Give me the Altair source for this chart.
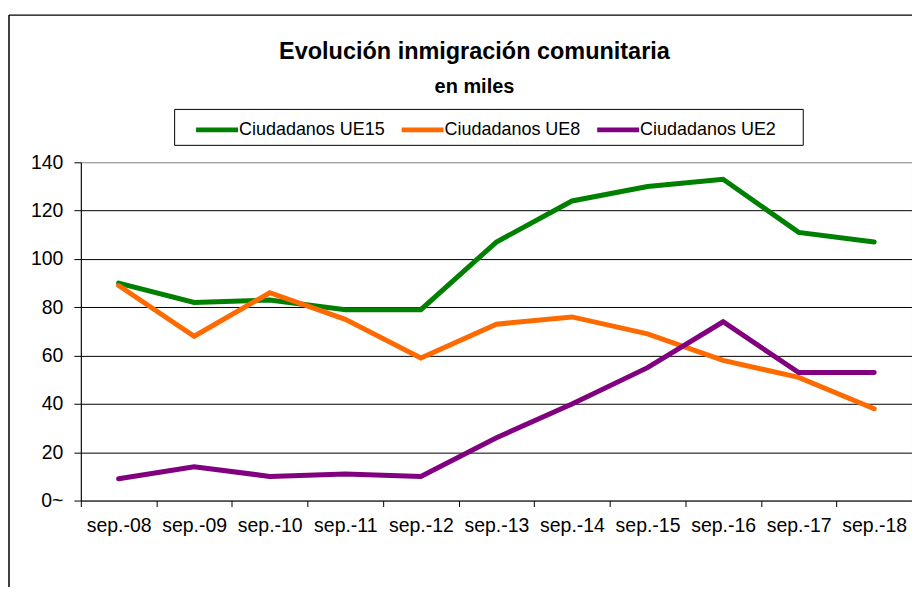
import altair as alt
import pandas as pd

periodos = ["sep.-08", "sep.-09", "sep.-10", "sep.-11", "sep.-12", "sep.-13",
            "sep.-14", "sep.-15", "sep.-16", "sep.-17", "sep.-18"]
ue15 = [90, 82, 83, 79, 79, 107, 124, 130, 133, 111, 107]
ue8 = [89, 68, 86, 75, 59, 73, 76, 69, 58, 51, 38]
ue2 = [9, 14, 10, 11, 10, 26, 40, 55, 74, 53, 53]
series = ["Ciudadanos UE15", "Ciudadanos UE8", "Ciudadanos UE2"]
colores = ["#008000", "#FF6A00", "#800080"]
y_ticks = [0, 20, 40, 60, 80, 100, 120, 140]

rows = []
for nombre, vals in zip(series, [ue15, ue8, ue2]):
    for p, v in zip(periodos, vals):
        rows.append({"periodo": p, "serie": nombre, "valor": v})
df = pd.DataFrame(rows)

FONT = "Liberation Sans"

lines = alt.Chart(df).mark_line(strokeWidth=5, strokeJoin="miter", strokeCap="round").encode(
    x=alt.X("periodo:N", sort=periodos, bandPosition=0.5,
            scale=alt.Scale(type="band", paddingInner=0, paddingOuter=0),
            axis=alt.Axis(title=None, labelAngle=0, tickBand="extent", labelFontSize=19.5,
                          labelFont=FONT, labelColor="black", domainColor="black",
                          tickColor="black", tickSize=6, labelPadding=10, grid=False)),
    y=alt.Y("valor:Q", scale=alt.Scale(domain=[0, 140], nice=False),
            axis=alt.Axis(title=None, values=y_ticks, labelFontSize=19.5, labelFont=FONT,
                          labelColor="black", domainColor="black", tickColor="black",
                          tickSize=7, labelPadding=11,
                          labelExpr="datum.value == 0 ? '0~' : datum.label",
                          gridColor={"condition": {"test": "datum.value == 0 || datum.value == 140",
                                                   "value": "transparent"},
                                     "value": "black"},
                          gridWidth=1)),
    color=alt.Color("serie:N", sort=series,
                    scale=alt.Scale(domain=series, range=colores),
                    legend=alt.Legend(title=None, orient="none", direction="horizontal",
                                      columns=3, legendX=113, legendY=-45.5,
                                      padding=0, symbolOffset=10.5,
                                      symbolType="M-2,0L2,0", symbolSize=441,
                                      symbolStrokeWidth=5, labelFontSize=18,
                                      labelFont=FONT, labelFontWeight="normal",
                                      labelColor="black",
                                      labelOffset=9, columnPadding=6,
                                      labelLimit=300)),
)

frame_src = alt.Chart(pd.DataFrame({"k": [0]}))
top_rule = frame_src.mark_rule(color="black", strokeWidth=1.5).encode(
    x=alt.value(-72), x2=alt.value(860), y=alt.value(-147.5))
left_rule = frame_src.mark_rule(color="black", strokeWidth=1.5).encode(
    x=alt.value(-72), y=alt.value(-147.5), y2=alt.value(460))
legend_box = frame_src.mark_rect(fill="white", stroke="black", strokeWidth=1).encode(
    x=alt.value(94), x2=alt.value(724), y=alt.value(-53), y2=alt.value(-17))

chart = alt.layer(top_rule, left_rule, legend_box, lines).properties(
    width=833, height=339,
    padding={"left": 73, "top": 154, "right": 0, "bottom": 86},
    autosize=alt.AutoSizeParams(type="none"),
    title=alt.Title("Evolución inmigración comunitaria", subtitle="en miles",
                    font=FONT, subtitleFont=FONT, fontSize=23.5, subtitleFontSize=20,
                    fontWeight="bold", subtitleFontWeight="bold", color="black",
                    subtitleColor="black", anchor="middle", dx=-22, dy=83, offset=0,
                    subtitlePadding=14),
).configure_view(stroke="#808080", strokeWidth=1)

chart.save("out.html", embed_options={"renderer": "svg", "actions": False})
